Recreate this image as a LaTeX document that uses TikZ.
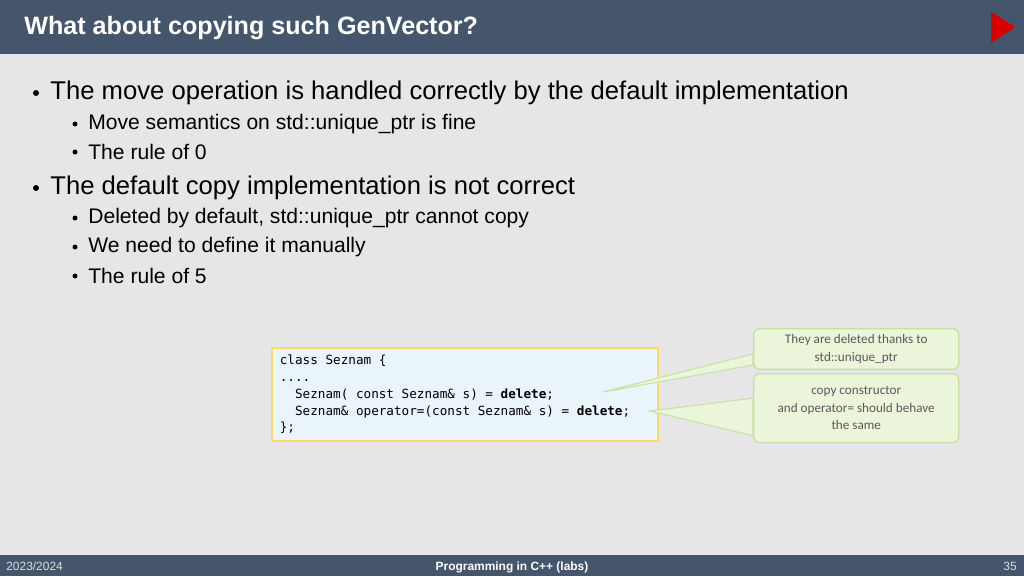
\documentclass[tikz,border=0pt]{standalone}
\usepackage{fontspec}
\setmainfont{Liberation Sans}
\newfontfamily\calibri{Carlito}
\newfontfamily\codefont{DejaVu Sans Mono}
\newcommand\csp{\phantom{x}}
\definecolor{barblue}{RGB}{69,85,107}
\definecolor{slidebg}{RGB}{230,230,230}
\definecolor{codefill}{RGB}{234,244,251}
\definecolor{codeframe}{RGB}{255,217,102}
\definecolor{notefill}{RGB}{235,245,218}
\definecolor{noteframe}{RGB}{200,225,160}
\definecolor{notetext}{RGB}{90,90,90}
\tikzset{
  main/.style={anchor=west, inner sep=0pt, font=\fontsize{14.6}{16}\selectfont},
  sub/.style={anchor=west, inner sep=0pt, font=\fontsize{12}{14}\selectfont},
  dot/.style={circle, fill=black, inner sep=0pt, minimum size=#1},
  note/.style={draw=noteframe, fill=notefill, rounded corners=3pt, line width=0.8pt,
    align=center, text=notetext, font=\calibri\fontsize{7.5}{10}\selectfont},
  wedge/.style={fill=notefill, draw=noteframe, line width=0.6pt},
  foot/.style={anchor=base, inner sep=0pt, font=\fontsize{6.8}{8}\selectfont}
}
\begin{document}
\begin{tikzpicture}[x={(0.02cm,0)}, y={(0,-0.02cm)}]
  \fill[slidebg] (0,0) rectangle (1024,576);
  \useasboundingbox (0,0) rectangle (1024,576);
  % title bar
  \fill[barblue] (0,0) rectangle (1024,54);
  \node[anchor=west, inner sep=0pt, text=white, font=\bfseries\fontsize{14.3}{16}\selectfont] (title) at (24,28) {What about copying such GenVector?};
  \fill[red!85!black] (991,12) -- (1015,27) -- (991,43) -- cycle;

  % bullets
  \node[main] (b1) at (50,93) {The move operation is handled correctly by the default implementation};
  \node[sub] (b11) at (88,124) {Move semantics on std::unique\_ptr is fine};
  \node[sub] (b12) at (88,152) {The rule of 0};
  \node[main] (b2) at (50,188) {The default copy implementation is not correct};
  \node[sub] (b21) at (88,218) {Deleted by default, std::unique\_ptr cannot copy};
  \node[sub] (b22) at (88,247) {We need to define it manually};
  \node[sub] (b23) at (88,276) {The rule of 5};
  \foreach \n in {b1,b2}
    \node[dot=6*0.02cm] at ([xshift=-14*0.02cm]\n.west) {};
  \foreach \n in {b11,b12,b21,b22,b23}
    \node[dot=5*0.02cm] at ([xshift=-13*0.02cm]\n.west) {};

  % code
  \node[draw=codeframe, fill=codefill, line width=1pt, minimum width=386*0.02cm,
    minimum height=93*0.02cm, anchor=north west, text width=370*0.02cm, align=left,
    font=\codefont\fontsize{7.2}{9.6}\selectfont] (code) at (271,347)
    {class\csp Seznam\csp\{\\
     ....\\
     \csp\csp Seznam(\csp const\csp Seznam\&\csp s)\csp=\csp\textbf{delete};\\
     \csp\csp Seznam\&\csp operator=(const\csp Seznam\&\csp s)\csp=\csp\textbf{delete};\\
     \};};
  \coordinate (tip1) at (603,392);
  \coordinate (tip2) at (650,411);

  % notes
  \node[note, minimum width=205*0.02cm, minimum height=40*0.02cm, anchor=north west] (n1) at (753,328)
    {They are deleted thanks to\\std::unique\_ptr};
  \node[note, minimum width=205*0.02cm, minimum height=69*0.02cm, anchor=north west] (n2) at (753,373)
    {copy constructor\\and operator= should behave\\the same};
  \draw[wedge] (tip1) -- ([yshift=-0.1cm]n1.west) -- ([yshift=-0.32cm]n1.west) -- cycle;
  \draw[wedge] (tip2) -- ([yshift=0.2cm]n2.west) -- ([yshift=-0.55cm]n2.west) -- cycle;

  % footer
  \fill[barblue] (0,555) rectangle (1024,576);
  \node[foot, anchor=base west, text=white!80!barblue] (year) at (6,570) {2023/2024};
  \node[foot, text=white, font=\bfseries\fontsize{6.8}{8}\selectfont] (course) at (512,570) {Programming in C++ (labs)};
  \node[foot, anchor=base east, text=white!80!barblue] (page) at (1017,570) {35};
\end{tikzpicture}
\end{document}
